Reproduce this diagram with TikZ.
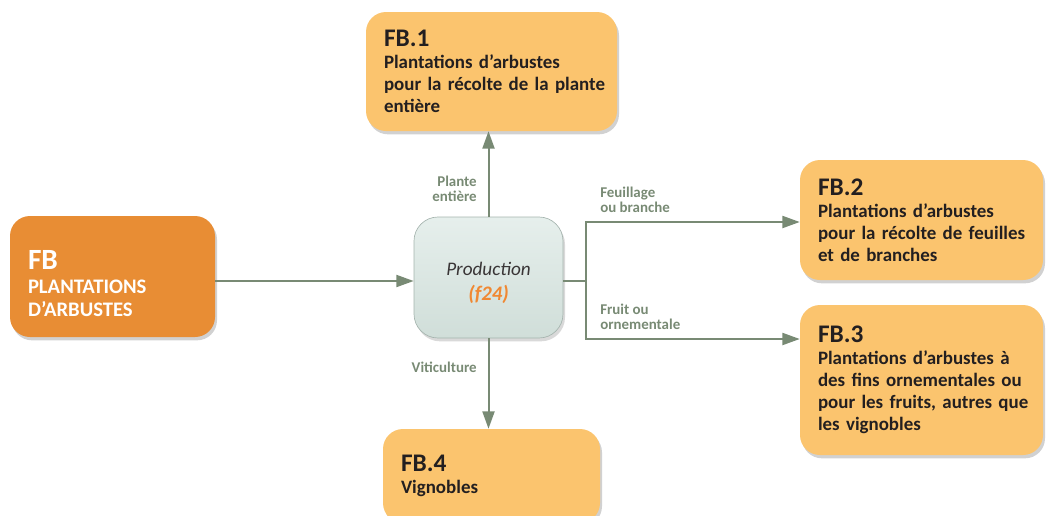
\documentclass[tikz,border=0pt]{standalone}
\usepackage{fontspec}
\setmainfont{Carlito}
\usetikzlibrary{arrows.meta,shadows}

\definecolor{linegreen}{RGB}{120,138,116}
\definecolor{darkorange}{RGB}{232,141,52}
\definecolor{lightorange}{RGB}{251,196,110}
\definecolor{prodtop}{RGB}{230,239,236}
\definecolor{prodbot}{RGB}{208,222,217}
\definecolor{prodborder}{RGB}{165,180,174}
\definecolor{fcode}{RGB}{240,136,50}
\definecolor{darktext}{RGB}{35,31,32}

\tikzset{
  box/.style={rectangle, rounded corners=15pt, inner xsep=13.5pt, inner ysep=0pt,
    align=left, text=darktext, font=\bfseries\fontsize{14.2}{16.5}\selectfont,
    drop shadow={shadow xshift=1.5pt, shadow yshift=-2.5pt, opacity=0.3, fill=black!60}},
  leaf/.style={box, fill=lightorange},
  link/.style={draw=linegreen, line width=1.5pt},
  flow/.style={link, -{Triangle[length=13pt,width=9pt]}},
  lbl/.style={text=linegreen, font=\bfseries\fontsize{11.2}{11.5}\selectfont, inner sep=0pt}
}
\newcommand{\boxtitle}[1]{{\fontsize{19}{22}\selectfont #1}}
\newcommand{\boxline}[1]{\mbox{#1}}

\begin{document}
\begin{tikzpicture}[x=0.75pt,y=-0.75pt]
\useasboundingbox (0,0) rectangle (1046,515);

% boxes
\node[box, fill=darkorange, text=white, text width=126.75pt, minimum height=90.75pt,
  font=\bfseries\fontsize{15.5}{17.5}\selectfont] (fb) at (112.5,276.5)
  {\rule{0pt}{25pt}{\fontsize{22}{24}\selectfont FB}\\PLANTATIONS\\D’ARBUSTES};
\node[rectangle, rounded corners=18pt, draw=prodborder, line width=0.5pt,
  top color=prodtop, bottom color=prodbot, minimum width=111.75pt, minimum height=90.75pt,
  align=center, font=\fontsize{14.4}{19}\selectfont,
  drop shadow={shadow xshift=1.5pt, shadow yshift=-2.5pt, opacity=0.25, fill=black!60}]
  (prod) at (488.5,277.5)
  {\rule{0pt}{18pt}\textcolor{darktext!90}{\itshape Production}\\
   \textcolor{fcode}{\bfseries\itshape\fontsize{15.5}{19}\selectfont (f24)}};
\node[leaf, text width=161.25pt, minimum height=89.25pt] (fb1) at (491.5,71.5)
  {\boxtitle{FB.1}\\\boxline{Plantations d’arbustes}\\\boxline{pour la récolte de la plante}\\entière};
\node[leaf, text width=155.25pt, minimum height=90pt] (fb2) at (921.5,220)
  {\boxtitle{FB.2}\\\boxline{Plantations d’arbustes}\\\boxline{pour la récolte de feuilles}\\\boxline{et de branches}};
\node[leaf, text width=155.25pt, minimum height=112.5pt] (fb3) at (921.5,380)
  {\boxtitle{FB.3}\\\boxline{Plantations d’arbustes à}\\\boxline{des fins ornementales ou}\\\boxline{pour les fruits, autres que}\\\boxline{les vignobles}};
\node[leaf, text width=135.75pt, minimum height=70.5pt] (fb4) at (491.5,476)
  {\boxtitle{FB.4}\\Vignobles};

% connectors
\coordinate (fork) at (586,281);
\coordinate (upper) at (586,222);
\coordinate (lower) at (586,339);
\draw[flow] (fb.east |- fork) -- (prod.west |- fork);
\draw[flow] (prod.north) -- (prod.north |- fb1.south);
\draw[flow] (prod.south) -- (prod.south |- fb4.north);
\draw[link] (prod.east |- fork) -- (fork);
\draw[flow] (fork) -- (upper) -- (upper -| fb2.west);
\draw[flow] (fork) -- (lower) -- (lower -| fb3.west);

% labels
\node[lbl, anchor=east, align=right] (lplante) at (477,189) {Plante\\entière};
\node[lbl, anchor=west, align=left] (lfeuil) at (600,200) {Feuillage\\ou branche};
\node[lbl, anchor=west, align=left] (lfruit) at (600,317) {Fruit ou\\ornementale};
\node[lbl, anchor=east] (lviti) at (477,367) {Viticulture};
\end{tikzpicture}
\end{document}
